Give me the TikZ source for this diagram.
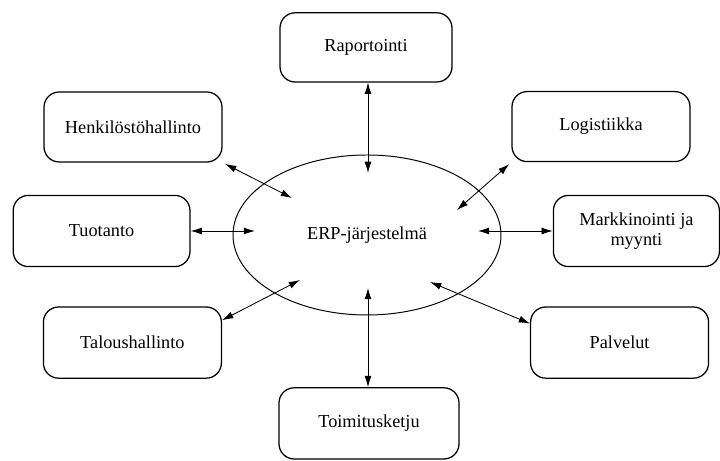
\documentclass[tikz,border=0pt]{standalone}
\usepackage{fontspec}
\setmainfont{Liberation Serif}
\usetikzlibrary{shapes.geometric,arrows.meta}
\tikzset{
  laatikko/.style={draw, line width=0.9pt, rounded corners=0.38cm,
    minimum width=4.45cm, minimum height=1.78cm, align=center,
    font=\fontsize{13}{14.5}\selectfont},
  nuoli/.style={{Latex[length=8pt,width=5pt]}-{Latex[length=8pt,width=5pt]}, line width=0.6pt},
}
\begin{document}
\begin{tikzpicture}
    \useasboundingbox (0,0) rectangle (18,11.525);
    %中间的椭圆
    \node[ellipse, draw, line width=0.7pt, minimum width=6.7cm, minimum height=4cm,
      inner sep=0pt, font=\fontsize{13}{14.5}\selectfont] (erp) at (9.175,5.65) {ERP-järjestelmä};

    %周围的方框
    \node[laatikko, minimum width=4.3cm, minimum height=1.73cm] (rap) at (9.15,10.34) {Raportointi};
    \node[laatikko, minimum height=1.75cm] (hen) at (3.325,8.35) {Henkilöstöhallinto};
    \node[laatikko, minimum height=1.75cm] (log) at (15.025,8.36) {Logistiikka};
    \node[laatikko, minimum width=4.42cm] (tuo) at (2.54,5.75) {Tuotanto};
    \node[laatikko, minimum width=4.15cm] (mar) at (15.91,5.75) {Markkinointi ja\\myynti};
    \node[laatikko] (tal) at (3.31,2.96) {Taloushallinto};
    \node[laatikko] (pal) at (15.49,2.96) {Palvelut};
    \node[laatikko, minimum width=4.5cm] (toi) at (9.225,0.94) {Toimitusketju};

    %椭圆内的箭头端点
    \coordinate (ylä) at (9.2,7.2);
    \coordinate (ala) at (9.2,4.325);
    \coordinate (vas) at (6.375,5.75);
    \coordinate (oik) at (11.95,5.75);
    \coordinate (nw) at (7.3,6.575);
    \coordinate (ne) at (11.425,6.275);
    \coordinate (sw) at (7.5,4.525);
    \coordinate (se) at (10.75,4.475);

    %双向箭头
    \draw[nuoli] (ylä) -- (ylä |- rap.south);
    \draw[nuoli] (ala) -- (ala |- toi.north);
    \draw[nuoli] (vas) -- (tuo.east);
    \draw[nuoli] (oik) -- (mar.west);
    \draw[nuoli, shorten >=0.07cm] (nw) -- (hen.south east);
    \draw[nuoli, shorten >=0.07cm] (ne) -- (log.south west);
    \draw[nuoli] (sw) -- (tal.14);
    \draw[nuoli] (se) -- (pal.168);
\end{tikzpicture}
\end{document}
